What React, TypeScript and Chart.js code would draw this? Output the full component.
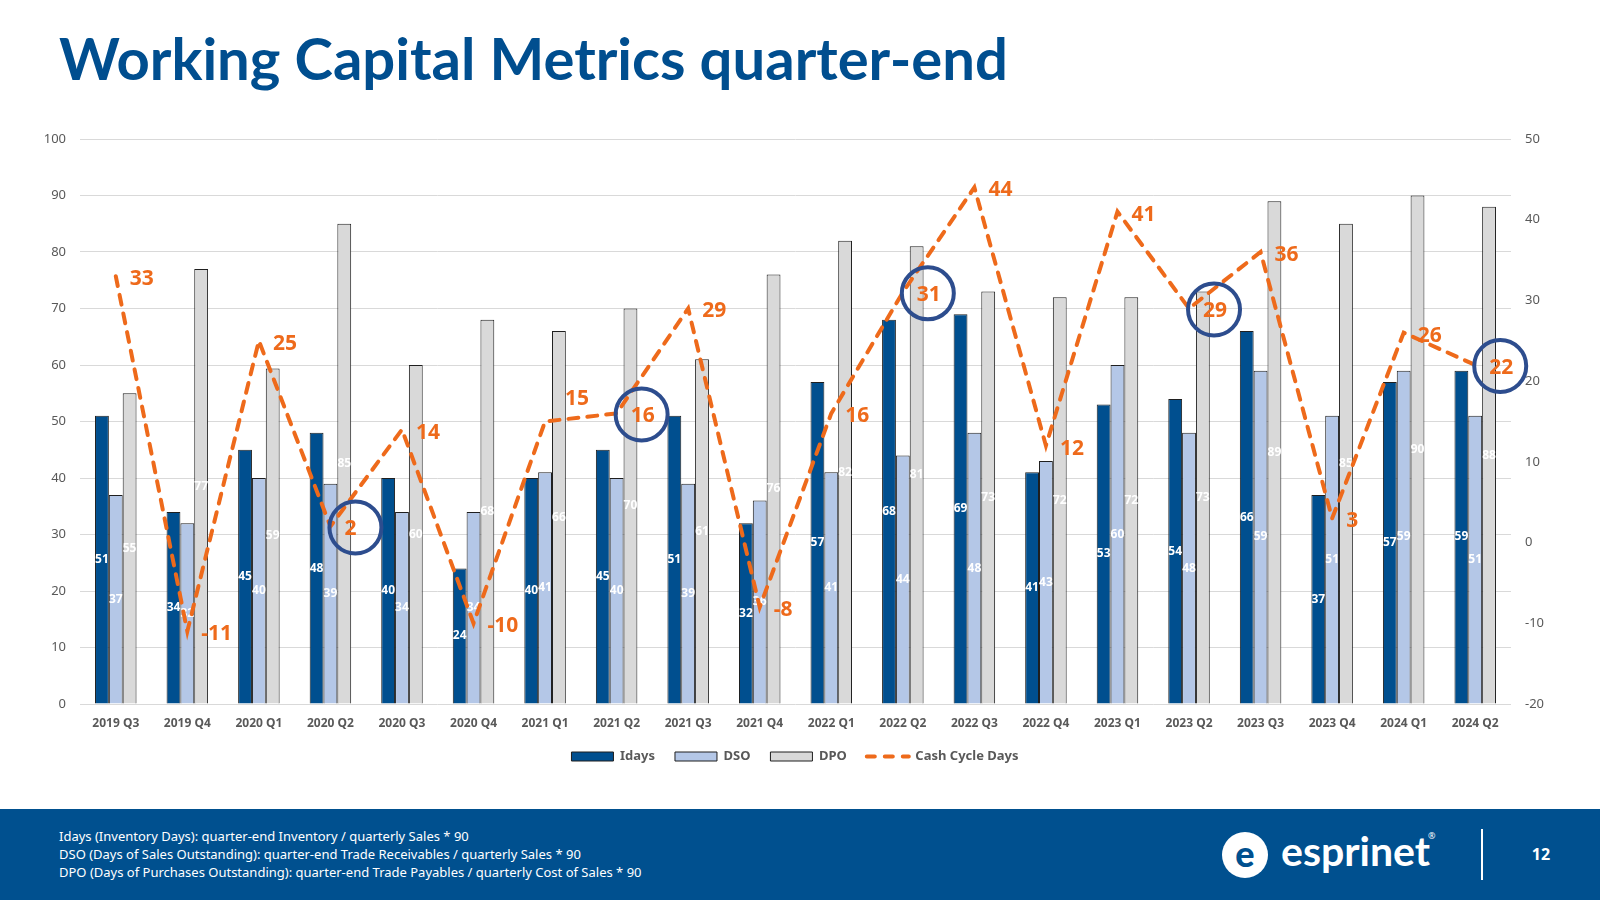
import React, { useEffect, useRef } from "react";
import { Chart, registerables } from "chart.js";

Chart.register(...registerables);

const quarters = [
  "2019 Q3", "2019 Q4", "2020 Q1", "2020 Q2", "2020 Q3", "2020 Q4",
  "2021 Q1", "2021 Q2", "2021 Q3", "2021 Q4", "2022 Q1", "2022 Q2",
  "2022 Q3", "2022 Q4", "2023 Q1", "2023 Q2", "2023 Q3", "2023 Q4",
  "2024 Q1", "2024 Q2",
];
const idays = [51, 34, 45, 48, 40, 24, 40, 45, 51, 32, 57, 68, 69, 41, 53, 54, 66, 37, 57, 59];
const dso = [37, 32, 40, 39, 34, 34, 41, 40, 39, 36, 41, 44, 48, 43, 60, 48, 59, 51, 59, 51];
const dpo = [55, 77, 59.4, 85, 60, 68, 66, 70, 61, 76, 82, 81, 73, 72, 72, 73, 89, 85, 90, 88];
const cashCycleDays = [33, -11, 25, 2, 14, -10, 15, 16, 29, -8, 16, 31, 44, 12, 41, 29, 36, 3, 26, 22];
const highlightedQuarters = ["2020 Q2", "2021 Q2", "2022 Q2", "2023 Q2", "2024 Q2"];
const labelAboveQuarters = ["2021 Q1"];

const FONT = "'Noto Sans', sans-serif";
const GREY_TEXT = "#595959";
const ORANGE = "#EE6A1B";
const NAVY = "#004E8F";
const CIRCLE_BLUE = "#2D4D8E";

const labelPlugin = {
  id: "valueLabels",
  beforeDatasetDraw(chart: any, args: any) {
    if (args.index !== 3) return;
    const ctx = chart.ctx;
    ctx.save();
    ctx.font = `bold 12px ${FONT}`;
    ctx.fillStyle = "#ffffff";
    ctx.textAlign = "center";
    ctx.textBaseline = "middle";
    for (let d = 0; d < 3; d++) {
      const meta = chart.getDatasetMeta(d);
      const values = chart.data.datasets[d].data as number[];
      meta.data.forEach((el: any, i: number) => {
        const p = el.getProps(["x", "y", "base"], true);
        ctx.fillText(String(Math.round(values[i])), p.x, (p.y + p.base) / 2);
      });
    }
    ctx.restore();
  },
  afterDatasetsDraw(chart: any) {
    const ctx = chart.ctx;
    const meta = chart.getDatasetMeta(3);
    const values = chart.data.datasets[3].data as number[];
    const labels = chart.data.labels as string[];
    ctx.save();
    ctx.font = `bold 21px ${FONT}`;
    ctx.fillStyle = ORANGE;
    ctx.textAlign = "left";
    ctx.textBaseline = "middle";
    meta.data.forEach((el: any, i: number) => {
      const p = el.getProps(["x", "y"], true);
      const above = labelAboveQuarters.includes(labels[i]);
      const dx = above ? 20 : 14;
      const dy = above ? -22 : 3;
      ctx.fillText(String(values[i]), p.x + dx, p.y + dy);
      if (highlightedQuarters.includes(labels[i])) {
        ctx.save();
        ctx.strokeStyle = CIRCLE_BLUE;
        ctx.lineWidth = 4;
        ctx.beginPath();
        ctx.arc(p.x + 25, p.y + 1, 26, 0, Math.PI * 2);
        ctx.stroke();
        ctx.restore();
      }
    });
    ctx.restore();
  },
};

export default function App() {
  const canvasRef = useRef<HTMLCanvasElement | null>(null);

  useEffect(() => {
    if (!canvasRef.current) return;
    const barCommon = {
      type: "bar" as const,
      yAxisID: "y",
      borderColor: "#1f1f1f",
      borderWidth: 1,
      categoryPercentage: 0.58,
      barPercentage: 1,
      order: 1,
    };
    const chart = new Chart(canvasRef.current, {
      type: "bar",
      data: {
        labels: quarters,
        datasets: [
          { ...barCommon, label: "Idays", data: idays, backgroundColor: "#004F8F" },
          { ...barCommon, label: "DSO", data: dso, backgroundColor: "#B4C7E7" },
          { ...barCommon, label: "DPO", data: dpo, backgroundColor: "#D9D9D9" },
          {
            type: "line" as const,
            label: "Cash Cycle Days",
            data: cashCycleDays,
            yAxisID: "y1",
            borderColor: ORANGE,
            backgroundColor: ORANGE,
            borderWidth: 4,
            borderDash: [10, 9],
            borderCapStyle: "round",
            pointRadius: 0,
            tension: 0,
            fill: false,
            order: 0,
          } as any,
        ],
      },
      options: {
        animation: false,
        responsive: false,
        maintainAspectRatio: false,
        layout: { padding: { left: 20, right: 30, top: 29, bottom: 0 } },
        plugins: {
          tooltip: { enabled: false },
          legend: {
            position: "bottom",
            labels: {
              usePointStyle: true,
              pointStyleWidth: 42,
              boxHeight: 9,
              padding: 20,
              color: GREY_TEXT,
              font: { family: FONT, size: 13, weight: "bold" },
              generateLabels: (chart: any) =>
                chart.data.datasets.map((ds: any, i: number) => {
                  const isLine = ds.type === "line";
                  return {
                    text: ds.label,
                    datasetIndex: i,
                    fillStyle: ds.backgroundColor,
                    strokeStyle: ds.borderColor,
                    lineWidth: isLine ? 4 : 1,
                    lineDash: isLine ? [8, 10] : [],
                    lineCap: isLine ? "round" : "butt",
                    pointStyle: isLine ? "line" : "rect",
                    fontColor: GREY_TEXT,
                    hidden: false,
                  };
                }),
            },
          },
        },
        scales: {
          x: {
            grid: { display: false, drawTicks: false },
            border: { display: false },
            ticks: {
              color: GREY_TEXT,
              font: { family: FONT, size: 12, weight: "bold" },
              padding: 12,
              maxRotation: 0,
              autoSkip: false,
            },
            afterFit: (s: any) => {
              s.height = 26;
            },
          },
          y: {
            position: "left",
            min: 0,
            max: 100,
            ticks: {
              stepSize: 10,
              color: GREY_TEXT,
              font: { family: FONT, size: 13 },
              padding: 14,
            },
            grid: { color: "#D9D9D9", lineWidth: 1, drawTicks: false },
            border: { display: false },
            afterFit: (s: any) => {
              s.width = 60;
            },
          },
          y1: {
            position: "right",
            min: -20,
            max: 50,
            ticks: {
              stepSize: 10,
              color: GREY_TEXT,
              font: { family: FONT, size: 13 },
              padding: 14,
            },
            grid: { display: false, drawTicks: false },
            border: { display: false },
            afterFit: (s: any) => {
              s.width = 59;
            },
          },
        },
      } as any,
      plugins: [labelPlugin as any],
    });
    return () => chart.destroy();
  }, []);

  return (
    <div
      style={{
        position: "fixed",
        left: 0,
        top: 0,
        width: 1600,
        height: 900,
        background: "#ffffff",
        overflow: "hidden",
      }}
    >
      <div
        style={{
          position: "absolute",
          left: 59,
          top: 29,
          fontFamily: "Lato, sans-serif",
          fontWeight: 700,
          fontSize: 58,
          lineHeight: "58px",
          color: NAVY,
          whiteSpace: "nowrap",
        }}
      >
        Working Capital Metrics quarter-end
      </div>
      <canvas
        ref={canvasRef}
        width={1600}
        height={663}
        style={{ position: "absolute", left: 0, top: 110, width: 1600, height: 663 }}
      />
      <div
        style={{
          position: "absolute",
          left: 0,
          top: 809,
          width: 1600,
          height: 91,
          background: "#00508F",
        }}
      >
        <div
          style={{
            position: "absolute",
            left: 59,
            top: 18,
            fontFamily: FONT,
            fontSize: 13,
            lineHeight: "18px",
            color: "#ffffff",
            whiteSpace: "nowrap",
          }}
        >
          <div>Idays (Inventory Days): quarter-end Inventory / quarterly Sales * 90</div>
          <div>DSO (Days of Sales Outstanding): quarter-end Trade Receivables / quarterly Sales * 90</div>
          <div>DPO (Days of Purchases Outstanding): quarter-end Trade Payables / quarterly Cost of Sales * 90</div>
        </div>
        <div
          style={{
            position: "absolute",
            left: 1222,
            top: 23,
            width: 46,
            height: 46,
            borderRadius: "50%",
            background: "#ffffff",
            color: "#00508F",
            fontFamily: "Lato, sans-serif",
            fontWeight: 900,
            fontSize: 36,
            lineHeight: "42px",
            textAlign: "center",
          }}
        >
          e
        </div>
        <div
          style={{
            position: "absolute",
            left: 1281,
            top: 17,
            fontFamily: "Lato, sans-serif",
            fontWeight: 700,
            fontSize: 41,
            lineHeight: "50px",
            color: "#ffffff",
            whiteSpace: "nowrap",
          }}
        >
          esprinet
        </div>
        <div
          style={{
            position: "absolute",
            left: 1428,
            top: 20,
            fontFamily: FONT,
            fontSize: 9,
            color: "#ffffff",
          }}
        >
          ®
        </div>
        <div
          style={{
            position: "absolute",
            left: 1481,
            top: 20,
            width: 2,
            height: 51,
            background: "#ffffff",
          }}
        />
        <div
          style={{
            position: "absolute",
            left: 1521,
            top: 35,
            width: 40,
            textAlign: "center",
            fontFamily: FONT,
            fontWeight: 700,
            fontSize: 16,
            lineHeight: "20px",
            color: "#ffffff",
          }}
        >
          12
        </div>
      </div>
    </div>
  );
}
